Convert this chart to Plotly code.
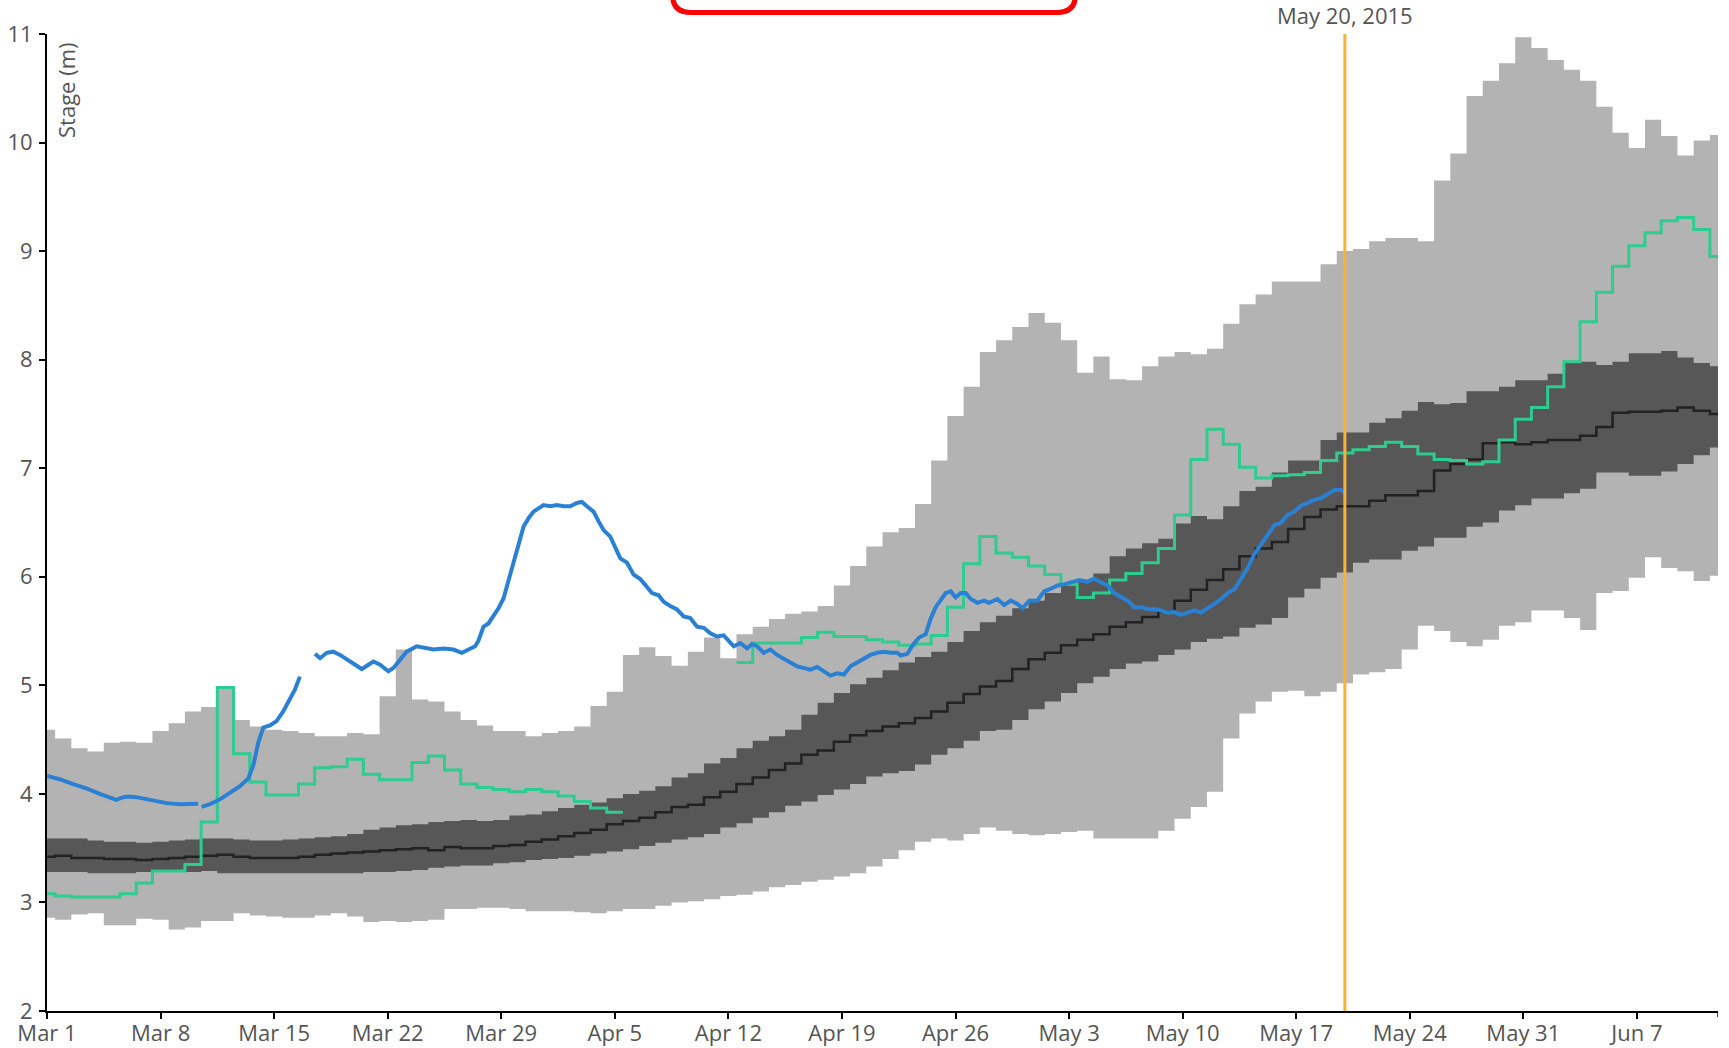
import pandas as pd
import plotly.graph_objects as go

# ---- data -------------------------------------------------------------
START = pd.Timestamp("2015-03-01")
END = pd.Timestamp("2015-06-12")
ISSUE_DATE = pd.Timestamp("2015-05-20")

# daily forecast envelope (stage, m), one value per day from Mar 1 to Jun 12
outer_low = [2.86, 2.84, 2.89, 2.90, 2.79, 2.79, 2.85, 2.84, 2.75, 2.77,
             2.83, 2.83, 2.90, 2.88, 2.87, 2.86, 2.86, 2.88, 2.90, 2.87,
             2.82, 2.83, 2.82, 2.83, 2.84, 2.94, 2.94, 2.95, 2.95, 2.94,
             2.92, 2.92, 2.92, 2.91, 2.90, 2.92, 2.94, 2.94, 2.97, 3.00,
             3.01, 3.03, 3.06, 3.07, 3.10, 3.14, 3.16, 3.19, 3.21, 3.24,
             3.27, 3.33, 3.40, 3.48, 3.56, 3.59, 3.57, 3.63, 3.69, 3.66,
             3.63, 3.62, 3.63, 3.65, 3.66, 3.59, 3.59, 3.59, 3.59, 3.66,
             3.77, 3.88, 4.02, 4.51, 4.74, 4.85, 4.94, 4.95, 4.90, 4.94,
             5.02, 5.10, 5.12, 5.15, 5.33, 5.55, 5.50, 5.40, 5.36, 5.42,
             5.55, 5.58, 5.69, 5.69, 5.62, 5.51, 5.85, 5.87, 5.99, 6.18,
             6.08, 6.05, 5.96, 6.01]
outer_high = [4.59, 4.51, 4.42, 4.39, 4.47, 4.48, 4.47, 4.58, 4.65, 4.76,
              4.80, 4.97, 4.68, 4.62, 4.59, 4.58, 4.56, 4.53, 4.53, 4.56,
              4.55, 4.90, 5.33, 4.87, 4.85, 4.76, 4.68, 4.63, 4.58, 4.58,
              4.53, 4.56, 4.58, 4.62, 4.81, 4.94, 5.28, 5.35, 5.27, 5.18,
              5.31, 5.44, 5.25, 5.47, 5.54, 5.61, 5.66, 5.68, 5.73, 5.92,
              6.10, 6.28, 6.41, 6.45, 6.67, 7.07, 7.48, 7.75, 8.07, 8.18,
              8.30, 8.43, 8.34, 8.18, 7.88, 8.03, 7.82, 7.81, 7.94, 8.03,
              8.07, 8.05, 8.10, 8.33, 8.51, 8.60, 8.72, 8.72, 8.72, 8.88,
              9.00, 9.02, 9.09, 9.12, 9.12, 9.09, 9.65, 9.90, 10.43, 10.57,
              10.73, 10.97, 10.87, 10.76, 10.67, 10.57, 10.33, 10.09, 9.95, 10.21,
              10.06, 9.88, 10.02, 10.07]
inner_low = [3.28, 3.28, 3.28, 3.27, 3.27, 3.27, 3.28, 3.28, 3.28, 3.28,
             3.29, 3.27, 3.27, 3.27, 3.27, 3.27, 3.27, 3.27, 3.27, 3.27,
             3.28, 3.28, 3.29, 3.30, 3.32, 3.33, 3.34, 3.34, 3.36, 3.37,
             3.39, 3.40, 3.41, 3.43, 3.45, 3.47, 3.49, 3.52, 3.55, 3.58,
             3.60, 3.63, 3.69, 3.73, 3.78, 3.83, 3.89, 3.93, 3.99, 4.04,
             4.09, 4.16, 4.19, 4.21, 4.27, 4.36, 4.42, 4.49, 4.58, 4.59,
             4.68, 4.78, 4.85, 4.93, 5.02, 5.08, 5.15, 5.20, 5.22, 5.28,
             5.33, 5.40, 5.43, 5.45, 5.53, 5.56, 5.62, 5.81, 5.89, 5.99,
             6.04, 6.13, 6.16, 6.16, 6.24, 6.28, 6.36, 6.36, 6.46, 6.50,
             6.61, 6.66, 6.72, 6.72, 6.77, 6.81, 6.96, 6.96, 6.93, 6.93,
             6.97, 7.04, 7.12, 7.19]
inner_high = [3.59, 3.59, 3.59, 3.57, 3.56, 3.56, 3.55, 3.56, 3.57, 3.58,
              3.59, 3.59, 3.58, 3.57, 3.57, 3.58, 3.59, 3.60, 3.61, 3.63,
              3.67, 3.69, 3.71, 3.72, 3.74, 3.75, 3.76, 3.75, 3.76, 3.80,
              3.81, 3.84, 3.87, 3.90, 3.92, 3.96, 4.00, 4.03, 4.07, 4.15,
              4.19, 4.28, 4.33, 4.42, 4.49, 4.53, 4.59, 4.73, 4.84, 4.93,
              5.01, 5.07, 5.14, 5.21, 5.26, 5.31, 5.40, 5.50, 5.58, 5.64,
              5.71, 5.78, 5.85, 5.92, 5.97, 6.03, 6.19, 6.26, 6.31, 6.35,
              6.49, 6.56, 6.53, 6.65, 6.79, 6.83, 6.96, 7.07, 7.07, 7.26,
              7.33, 7.33, 7.42, 7.46, 7.53, 7.61, 7.59, 7.60, 7.71, 7.71,
              7.75, 7.81, 7.81, 7.87, 7.98, 7.98, 7.95, 7.98, 8.06, 8.06,
              8.08, 8.02, 7.97, 7.94]
median = [3.42, 3.43, 3.41, 3.41, 3.40, 3.40, 3.39, 3.40, 3.41, 3.42,
          3.43, 3.44, 3.42, 3.41, 3.41, 3.41, 3.42, 3.44, 3.45, 3.46,
          3.47, 3.48, 3.49, 3.50, 3.48, 3.51, 3.50, 3.50, 3.52, 3.53,
          3.56, 3.58, 3.61, 3.64, 3.67, 3.72, 3.75, 3.78, 3.83, 3.88,
          3.90, 3.97, 4.02, 4.09, 4.15, 4.22, 4.28, 4.36, 4.40, 4.48,
          4.54, 4.58, 4.62, 4.65, 4.70, 4.76, 4.84, 4.92, 4.99, 5.04,
          5.15, 5.24, 5.30, 5.37, 5.42, 5.47, 5.54, 5.58, 5.63, 5.68,
          5.78, 5.88, 5.97, 6.07, 6.19, 6.26, 6.32, 6.44, 6.55, 6.62,
          6.65, 6.65, 6.70, 6.75, 6.75, 6.79, 6.98, 7.04, 7.08, 7.23,
          7.24, 7.22, 7.24, 7.26, 7.26, 7.30, 7.38, 7.51, 7.52, 7.52,
          7.53, 7.56, 7.53, 7.50]
# daily simulated stage (None = no value)
simulated = [3.08, 3.06, 3.05, 3.05, 3.05, 3.08, 3.18, 3.29, 3.29, 3.35,
             3.74, 4.98, 4.37, 4.11, 3.99, 3.99, 4.09, 4.24, 4.25, 4.32,
             4.18, 4.13, 4.13, 4.29, 4.35, 4.22, 4.09, 4.06, 4.04, 4.02,
             4.04, 4.02, 3.98, 3.93, 3.87, 3.83, None, None, None, None,
             None, None, None, 5.21, 5.39, 5.39, 5.39, 5.44, 5.49, 5.45,
             5.45, 5.42, 5.40, 5.37, 5.38, 5.46, 5.72, 6.12, 6.37, 6.22,
             6.18, 6.10, 6.02, 5.93, 5.81, 5.85, 5.97, 6.03, 6.13, 6.26,
             6.57, 7.08, 7.36, 7.22, 7.01, 6.91, 6.93, 6.94, 6.96, 7.07,
             7.14, 7.17, 7.20, 7.24, 7.20, 7.13, 7.08, 7.07, 7.04, 7.06,
             7.26, 7.45, 7.56, 7.75, 7.98, 8.35, 8.62, 8.86, 9.05, 9.17,
             9.28, 9.31, 9.20, 8.95]

# observed stage: time in days after Mar 1, None marks a data gap
obs_day = [0.0, 0.78, 1.61, 2.43, 3.25, 3.87, 4.28, 4.69, 5.0, 5.51,
           6.13, 6.75, 7.37, 8.19, 8.81, 9.32, None,
           9.53, 10.04, 10.66, 11.27, 11.89, 12.4, 12.71, 13.02, 13.33,
           13.74, 14.15, 14.56, 14.98, 15.28, 15.59, None,
           16.52, 16.83, 17.24, 17.65, 18.06, 18.47, 18.99, 19.4, 19.81, 20.12,
           20.53, 21.04, 21.35, 21.76, 22.17, 22.79, 23.2, 23.82, 24.44, 25.05,
           25.57, 26.08, 26.39, 26.59, 26.9, 27.21, 27.52, 27.83, 28.14, 28.34,
           28.65, 28.96, 29.37, 29.68, 29.99, 30.3, 30.6, 31.02, 31.43, 31.84,
           32.25, 32.66, 32.97, 33.28, 33.69, 34.0, 34.31, 34.72, 35.03, 35.34,
           35.75, 36.16, 36.57, 36.98, 37.29, 37.7, 38.01, 38.42, 38.83, 39.24,
           39.65, 40.07, 40.48, 40.89, 41.3, 41.71, 42.12, 42.33, 42.74, 43.15,
           43.46, 43.77, 44.18, 44.59, 45.0, 45.41, 45.82, 46.24, 46.65, 47.06,
           47.47, 47.88, 48.29, 48.7, 49.12, 49.53, 49.94, 50.35, 50.76, 51.17,
           51.58, 51.99, 52.41, 52.62, 53.03, 53.34, 53.75, 54.16, 54.47, 54.78,
           55.09, 55.4, 55.71, 56.01, 56.32, 56.63, 56.94, 57.35, 57.76, 58.07,
           58.58, 59.0, 59.41, 59.82, 60.13, 60.54, 61.05, 61.46, 61.88, 62.29,
           62.7, 63.11, 63.62, 64.14, 64.55, 64.96, 65.37, 65.78, 66.19, 66.61,
           67.02, 67.43, 67.94, 68.35, 68.66, 69.07, 69.49, 69.9, 70.31, 70.72,
           71.13, 71.54, 71.95, 72.37, 72.78, 73.19, 73.6, 74.01, 74.42, 74.83,
           75.24, 75.66, 76.07, 76.48, 76.89, 77.3, 77.71, 78.12, 78.54, 78.95,
           79.36, 79.77, 80.05]
obs_stage = [4.165, 4.135, 4.09, 4.05, 4.00, 3.97, 3.945, 3.97, 3.975, 3.97,
             3.95, 3.93, 3.915, 3.905, 3.905, 3.91, None,
             3.88, 3.905, 3.95, 4.005, 4.07, 4.14, 4.26, 4.47, 4.61,
             4.63, 4.67, 4.76, 4.87, 4.96, 5.08, None,
             5.29, 5.25, 5.30, 5.31, 5.28, 5.24, 5.19, 5.15, 5.19, 5.22,
             5.19, 5.13, 5.16, 5.24, 5.31, 5.36, 5.35, 5.33, 5.34, 5.33,
             5.30, 5.34, 5.36, 5.41, 5.54, 5.57, 5.635, 5.71, 5.80, 5.91,
             6.065, 6.22, 6.46, 6.54, 6.60, 6.63, 6.66, 6.65, 6.66, 6.65,
             6.65, 6.68, 6.69, 6.65, 6.60, 6.51, 6.43, 6.37, 6.28, 6.17,
             6.13, 6.02, 5.98, 5.90, 5.85, 5.83, 5.77, 5.73, 5.70, 5.635,
             5.62, 5.54, 5.53, 5.48, 5.45, 5.46, 5.40, 5.36, 5.39, 5.34,
             5.38, 5.36, 5.30, 5.33, 5.28, 5.24, 5.21, 5.175, 5.16, 5.145,
             5.17, 5.13, 5.09, 5.11, 5.10, 5.175, 5.21, 5.24, 5.28, 5.30,
             5.31, 5.30, 5.30, 5.275, 5.29, 5.365, 5.44, 5.47, 5.615, 5.72,
             5.78, 5.85, 5.865, 5.81, 5.85, 5.85, 5.795, 5.76, 5.78, 5.76,
             5.795, 5.74, 5.78, 5.75, 5.71, 5.78, 5.78, 5.865, 5.89, 5.92,
             5.93, 5.95, 5.97, 5.955, 5.985, 5.95, 5.92, 5.85, 5.81, 5.78,
             5.72, 5.72, 5.70, 5.70, 5.69, 5.67, 5.675, 5.65, 5.67, 5.69,
             5.67, 5.705, 5.75, 5.795, 5.85, 5.885, 5.99, 6.08, 6.21, 6.295,
             6.385, 6.475, 6.50, 6.57, 6.60, 6.654, 6.68, 6.71, 6.725, 6.76,
             6.80, 6.80, 6.77]

tick_dates = pd.date_range("2015-03-01", "2015-06-07", freq="7D")
tick_text = [f"{d:%b} {d.day}" for d in tick_dates]

# ---- styling ----------------------------------------------------------
W, H = 1729, 1048
ML, MR, MT, MB = 47, 11, 34, 37
FONT = "Open Sans, Noto Sans, sans-serif"
TEXT_GREY = "#555555"
HALF_DAY = pd.Timedelta(hours=12)


def steps(values):
    """Daily values as a mid-point step line (each value spans its own day)."""
    xs, ys = [], []
    for d, v in enumerate(values):
        if v is None:
            if xs and xs[-1] is not None:
                xs.append(None)
                ys.append(None)
            continue
        t = START + pd.Timedelta(days=d)
        xs += [t - HALF_DAY, t + HALF_DAY]
        ys += [v, v]
    return xs, ys


def px_to_paper(px, py):
    pw, ph = W - ML - MR, H - MT - MB
    return (px - ML) / pw, (H - MB - py) / ph


fig = go.Figure()

for low, high, colour in [(outer_low, outer_high, "#b3b3b3"),
                          (inner_low, inner_high, "#575757")]:
    xl, yl = steps(low)
    xh, yh = steps(high)
    fig.add_trace(go.Scatter(x=xl, y=yl, mode="lines", line=dict(width=0),
                             hoverinfo="skip", showlegend=False))
    fig.add_trace(go.Scatter(x=xh, y=yh, mode="lines", line=dict(width=0),
                             fill="tonexty", fillcolor=colour,
                             hoverinfo="skip", showlegend=False))

xm, ym = steps(median)
fig.add_trace(go.Scatter(x=xm, y=ym, mode="lines",
                         line=dict(color="#222222", width=2.5),
                         showlegend=False))

xs_, ys_ = steps(simulated)
fig.add_trace(go.Scatter(x=xs_, y=ys_, mode="lines",
                         line=dict(color="#2ecc8f", width=3),
                         showlegend=False))

obs_x = [None if d is None else START + pd.Timedelta(days=d) for d in obs_day]
fig.add_trace(go.Scatter(x=obs_x, y=obs_stage, mode="lines",
                         line=dict(color="#2a80d3", width=4),
                         connectgaps=False, showlegend=False))

# forecast issue date marker
fig.add_shape(type="line", xref="x", yref="paper",
              x0=ISSUE_DATE, x1=ISSUE_DATE, y0=0, y1=1,
              line=dict(color="#f9b233", width=3), layer="above")
fig.add_annotation(x=ISSUE_DATE, xref="x", y=px_to_paper(0, 15)[1], yref="paper",
                   text="May 20, 2015", showarrow=False,
                   xanchor="center", yanchor="middle",
                   font=dict(family=FONT, size=22, color=TEXT_GREY))

# axis title drawn inside the plot, reading upwards
sx, sy = px_to_paper(66, 90)
fig.add_annotation(x=sx, y=sy, xref="paper", yref="paper",
                   text="Stage (m)", textangle=-90, showarrow=False,
                   xanchor="center", yanchor="middle",
                   font=dict(family=FONT, size=22, color=TEXT_GREY))

# outer tick closing the x axis on the right
fig.add_shape(type="line", xref="x", yref="paper", x0=END, x1=END,
              y0=0, y1=-6 / (H - MT - MB), line=dict(color="black", width=1.5))

# rounded red frame at the top of the page
left, right, bottom, top, r = 672.5, 1075.5, 12.5, -40, 18
pts = {
    "a": px_to_paper(left, top), "b": px_to_paper(left, bottom - r),
    "c": px_to_paper(left, bottom), "d": px_to_paper(left + r, bottom),
    "e": px_to_paper(right - r, bottom), "f": px_to_paper(right, bottom),
    "g": px_to_paper(right, bottom - r), "h": px_to_paper(right, top),
}
fmt = {k: f"{v[0]:.5f},{v[1]:.5f}" for k, v in pts.items()}
frame_path = (f"M {fmt['a']} L {fmt['b']} Q {fmt['c']} {fmt['d']} "
              f"L {fmt['e']} Q {fmt['f']} {fmt['g']} L {fmt['h']}")
fig.add_shape(type="path", xref="paper", yref="paper", path=frame_path,
              line=dict(color="#ff0000", width=5))

axis_common = dict(showline=True, linecolor="black", linewidth=2,
                   ticks="outside", ticklen=6, tickwidth=1.5, tickcolor="black",
                   showgrid=False, zeroline=False, automargin=False,
                   tickfont=dict(family=FONT, size=22, color=TEXT_GREY))

fig.update_layout(
    width=W, height=H, autosize=False,
    margin=dict(l=ML, r=MR, t=MT, b=MB, pad=0),
    paper_bgcolor="white", plot_bgcolor="white",
    xaxis=dict(type="date", range=[START, END], ticklabelstandoff=-4,
               tickvals=list(tick_dates), ticktext=tick_text, **axis_common),
    yaxis=dict(range=[2, 11], tickvals=list(range(2, 12)), ticklabelstandoff=2,
               **axis_common),
)

fig.write_html("out.html")
